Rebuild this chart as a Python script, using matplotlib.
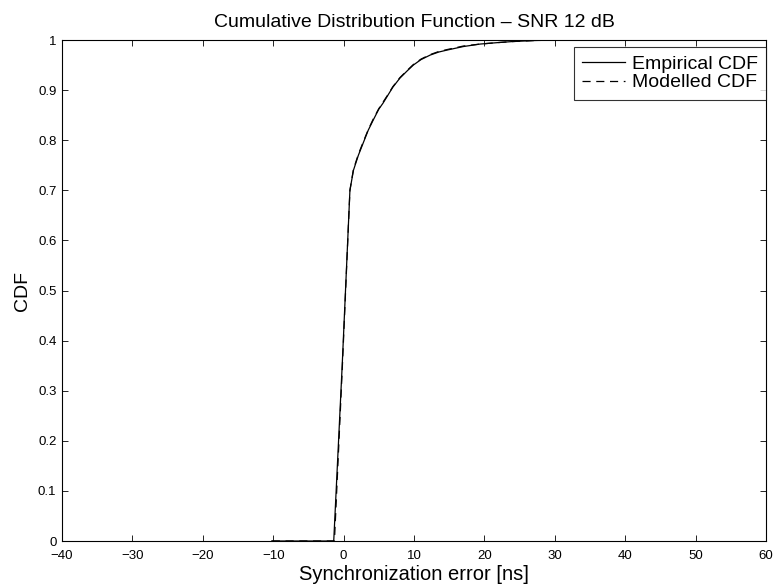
import matplotlib

matplotlib.use("Agg")
import matplotlib.pyplot as plt

# Synchronization error samples (ns) and CDF values
emp_x = [-10.2, -1.4, -0.2, 0.9, 1.4, 2.1, 2.8, 3.5, 4.2, 5.0, 5.6, 6.3, 7.0, 8.0,
         9.0, 9.9, 11.0, 12.3, 13.5, 14.7, 17.0, 19.4, 22.0, 24.0, 27.0, 30.0]
emp_y = [0.0, 0.0, 0.35, 0.70, 0.74, 0.77, 0.795, 0.82, 0.84, 0.862, 0.874, 0.89,
         0.906, 0.924, 0.938, 0.95, 0.961, 0.97, 0.976, 0.98, 0.987, 0.992, 0.995,
         0.997, 0.999, 1.0]

mod_x = [-10.2, -1.3, -0.2, 0.9, 1.4, 2.1, 2.8, 3.5, 4.2, 5.0, 5.6, 6.3, 7.0, 8.0,
         9.0, 9.9, 11.0, 12.3, 13.5, 14.7, 17.0, 19.4, 22.0, 24.0, 27.0, 30.0]
mod_y = [0.0, 0.0, 0.34, 0.70, 0.742, 0.772, 0.797, 0.821, 0.842, 0.863, 0.876,
         0.891, 0.907, 0.925, 0.939, 0.951, 0.962, 0.971, 0.977, 0.981, 0.988,
         0.992, 0.995, 0.997, 0.999, 1.0]

x_ticks = list(range(-40, 61, 10))
y_ticks = [i / 10 for i in range(11)]
y_labels = ["0", "0.1", "0.2", "0.3", "0.4", "0.5", "0.6", "0.7", "0.8", "0.9", "1"]

plt.rcParams["font.family"] = ["Liberation Sans", "DejaVu Sans"]

fig = plt.figure(figsize=(7.77, 5.88), dpi=100)
ax = fig.add_axes([0.0798, 0.0799, 0.906, 0.852])

ax.plot(emp_x, emp_y, color="black", linewidth=0.9, label="Empirical CDF")
ax.plot(mod_x, mod_y, color="black", linewidth=0.9, linestyle=(0, (6.5, 4.5)),
        label="Modelled CDF")

ax.set_xlim(-40, 60)
ax.set_ylim(0, 1)
ax.set_xticks(x_ticks)
ax.set_yticks(y_ticks)
ax.set_yticklabels(y_labels)
ax.tick_params(direction="in", top=True, right=True, labelsize=9.5, length=4,
               width=0.6)
ax.tick_params(axis="x", pad=6.5)
ax.tick_params(axis="y", pad=4)
for s in ax.spines.values():
    s.set_linewidth(0.8)

ax.set_xlabel("Synchronization error [ns]", fontsize=14.5, labelpad=2)
ax.set_ylabel("CDF", fontsize=14, labelpad=5)
ax.set_title("Cumulative Distribution Function \u2013 SNR 12 dB", fontsize=14, pad=9.5)

leg = ax.legend(loc="upper right", bbox_to_anchor=(1.0, 0.986), fontsize=14,
                frameon=True, fancybox=False, borderaxespad=0.0,
                handlelength=2.2, handletextpad=0.35, borderpad=0.42,
                labelspacing=0.05)
leg.get_frame().set_edgecolor("black")
leg.get_frame().set_linewidth(0.8)

fig.savefig("out.png", dpi=100)
